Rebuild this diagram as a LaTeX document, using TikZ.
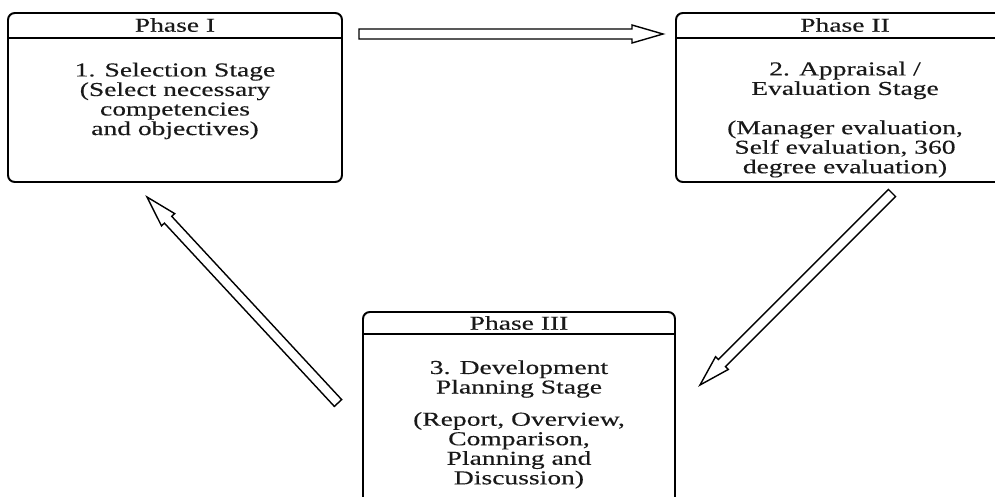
\documentclass[tikz,border=0pt]{standalone}
\usepackage{fontspec}
\setmainfont{Liberation Serif}[FakeStretch=1.4, FakeBold=0.3]
\usetikzlibrary{calc}

\newcommand{\blockarrow}[2]{%
  \coordinate (#1h) at ($(#2)!0.775cm!(#1)$);
  \draw[arrowline] ($(#1)!0.125cm!90:(#2)$) -- ($(#1h)!0.125cm!90:(#2)$)
    -- ($(#1h)!0.225cm!90:(#2)$) -- (#2) -- ($(#1h)!0.225cm!-90:(#2)$)
    -- ($(#1h)!0.125cm!-90:(#2)$) -- ($(#1)!0.125cm!-90:(#2)$) -- cycle;
}

\begin{document}
\begin{tikzpicture}[
    phasebox/.style={draw=black, line width=1.4pt, rounded corners=0.17cm, inner sep=0pt},
    headline/.style={black, line width=1pt},
    arrowline/.style={draw=black, fill=white, line width=1pt, line join=miter},
    phasetext/.style={align=center, inner sep=0pt, text=black!90,
      font=\fontsize{14}{13.9}\selectfont}
  ]
  \useasboundingbox (0,0) rectangle (24.875,-12.4);
  \clip (0,0) rectangle (24.875,-12.4);

  \node[phasebox, minimum width=8.35cm, minimum height=4.225cm] (phaseone) at (4.375,-2.4375) {};
  \draw[headline] (0.2,-0.95) -- (8.55,-0.95);
  \node[phasetext] (titleone) at (4.375,-0.625) {Phase I};
  \node[phasetext] (bodyone) at (4.375,-2.525) {1. Selection Stage\\(Select necessary\\competencies\\and objectives)};


  \node[phasebox, minimum width=8.35cm, minimum height=4.225cm] (phasetwo) at (21.075,-2.4375) {};
  \draw[headline] (16.9,-0.95) -- (25.25,-0.95);
  \node[phasetext] (titletwo) at (21.125,-0.625) {Phase II};
  \node[phasetext] (bodytwo) at (21.125,-2.99) {2. Appraisal /\\Evaluation Stage\\[14pt](Manager evaluation,\\Self evaluation, 360\\degree evaluation)};


  \node[phasebox, minimum width=7.8cm, minimum height=4.825cm] (phasethree) at (12.975,-10.2125) {};
  \draw[headline] (9.075,-8.35) -- (16.875,-8.35);
  \node[phasetext] (titlethree) at (12.975,-8.075) {Phase III};
  \node[phasetext] (bodythree) at (12.975,-10.61) {3. Development\\Planning Stage\\[9pt](Report, Overview,\\Comparison,\\Planning and\\Discussion)};


  \coordinate (onetwo) at (8.975,-0.85);
  \coordinate (onetwoend) at (16.575,-0.85);
  \blockarrow{onetwo}{onetwoend}

  \coordinate (twothree) at (22.3,-4.825);
  \coordinate (twothreeend) at (17.5,-9.625);
  \blockarrow{twothree}{twothreeend}

  \coordinate (threeone) at (8.45,-10.075);
  \coordinate (threeoneend) at (3.675,-4.925);
  \blockarrow{threeone}{threeoneend}
\end{tikzpicture}
\end{document}
